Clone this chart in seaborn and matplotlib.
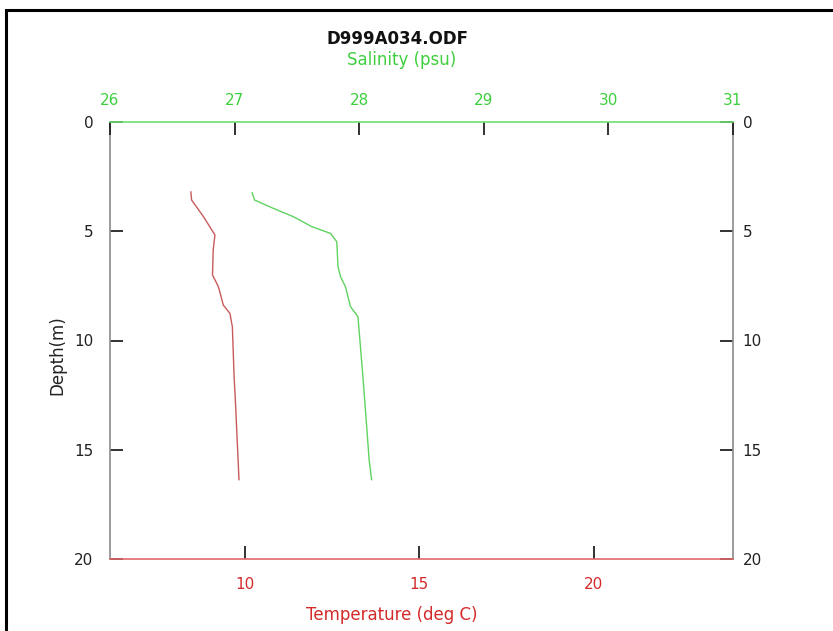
import matplotlib
matplotlib.use("Agg")
import matplotlib.pyplot as plt
import matplotlib.transforms as mtransforms
import seaborn as sns
import pandas as pd
from matplotlib.patches import Rectangle

# ---- data ----
temp_depth = [3.19, 3.57, 4.33, 5.17, 5.86, 7.00, 7.54, 8.38, 8.76, 9.37, 11.66, 12.87, 16.38]
temperature = [8.45, 8.47, 8.81, 9.14, 9.09, 9.07, 9.24, 9.38, 9.57, 9.64, 9.69, 9.73, 9.83]
sal_depth = [3.23, 3.57, 3.95, 4.33, 4.79, 5.10, 5.48, 6.62, 7.08, 7.54, 8.45, 8.91, 11.66, 13.94, 15.47, 16.38]
salinity = [27.14, 27.16, 27.31, 27.47, 27.62, 27.77, 27.82, 27.83, 27.85, 27.89, 27.93, 27.99, 28.03, 28.06, 28.08, 28.10]
depth_ticks = [0, 5, 10, 15, 20]
temp_ticks = [10, 15, 20]
sal_ticks = [26, 27, 28, 29, 30, 31]

title = "D999A034.ODF"

sns.set_style("white")
plt.rcParams['font.family'] = ['DejaVu Sans']

W, H = 833, 631
fig = plt.figure(figsize=(W / 100, H / 100), dpi=100)
ax = fig.add_axes([110 / W, 1 - 559 / H, (733 - 110) / W, (559 - 122) / H])
ax2 = ax.twiny()

df_t = pd.DataFrame({"Temperature": temperature, "Depth": temp_depth})
df_s = pd.DataFrame({"Salinity": salinity, "Depth": sal_depth})

red_line = "#c85a5a"
green_line = "#5fd35f"
red_txt = "#d42a2a"
green_txt = "#3ecf3e"

sns.lineplot(data=df_t, x="Temperature", y="Depth", sort=False, estimator=None,
             color=red_line, lw=1.0, ax=ax)
sns.lineplot(data=df_s, x="Salinity", y="Depth", sort=False, estimator=None,
             color=green_line, lw=1.0, ax=ax2)

ax.set_xlim(6.13, 24.0)
ax2.set_xlim(26, 31)
ax.set_ylim(20, 0)
ax2.set_ylim(20, 0)

ax.set_xticks(temp_ticks)
ax.set_xticklabels([str(t) for t in temp_ticks])
ax2.set_xticks(sal_ticks)
ax2.set_xticklabels([str(t) for t in sal_ticks])
ax.set_yticks(depth_ticks)
ax.set_yticklabels([str(t) for t in depth_ticks])

ax.set_xlabel("")
ax.set_ylabel("")
ax2.set_xlabel("")
ax2.set_ylabel("")

fs = 11
ax.tick_params(axis='y', which='both', direction='in', length=9.5, width=1.3, color='#222222',
               left=True, right=True, labelleft=True, labelright=True,
               labelsize=fs, labelcolor='#222222', pad=12)
ax.tick_params(axis='x', direction='in', length=9.5, width=1.3, color='#222222',
               bottom=True, top=False, labelsize=fs, labelcolor=red_txt, pad=13)
ax2.tick_params(axis='x', direction='in', length=9.5, width=1.3, color='#222222',
                top=True, bottom=False, labelsize=fs, labelcolor=green_txt, pad=10)
ax2.tick_params(axis='y', left=False, right=False, labelleft=False, labelright=False)

# right tick labels closer to the axis
offset = mtransforms.ScaledTranslation(-5 / 72, 0, fig.dpi_scale_trans)
for t in ax.yaxis.get_major_ticks():
    t.label2.set_transform(t.label2.get_transform() + offset)

for a in (ax, ax2):
    for s in a.spines.values():
        s.set_visible(False)
ax.spines['left'].set_visible(True)
ax.spines['right'].set_visible(True)
ax.spines['bottom'].set_visible(True)
ax2.spines['top'].set_visible(True)
ax.spines['left'].set_color('#8a8a8a')
ax.spines['right'].set_color('#8a8a8a')
ax.spines['left'].set_linewidth(1.2)
ax.spines['right'].set_linewidth(1.2)
ax.spines['bottom'].set_color('#e06a6a')
ax.spines['bottom'].set_linewidth(1.2)
ax2.spines['top'].set_color('#6fe06f')
ax2.spines['top'].set_linewidth(1.2)
ax.grid(False)
ax2.grid(False)

lfs = 12
fig.text(397.5 / W, 1 - 38.5 / H, title, ha='center', va='center', fontsize=lfs,
         fontweight='bold', color='#111111')
fig.text(402 / W, 1 - 60 / H, "Salinity (psu)", ha='center', va='center',
         fontsize=lfs, color=green_txt)
fig.text(392 / W, 1 - 615 / H, "Temperature (deg C)", ha='center', va='center',
         fontsize=lfs, color=red_txt)
fig.text(57 / W, 1 - 355 / H, "Depth(m)", ha='center', va='center', rotation=90,
         fontsize=lfs, color='#222222')

# outer black frame (cropped on right and bottom)
fig.patches.append(Rectangle((5.5 / W, -0.1), 1.2, 1.1 - 9.5 / H, transform=fig.transFigure,
                             fill=False, edgecolor='black', linewidth=2.2))

fig.savefig("out.png", dpi=100)
